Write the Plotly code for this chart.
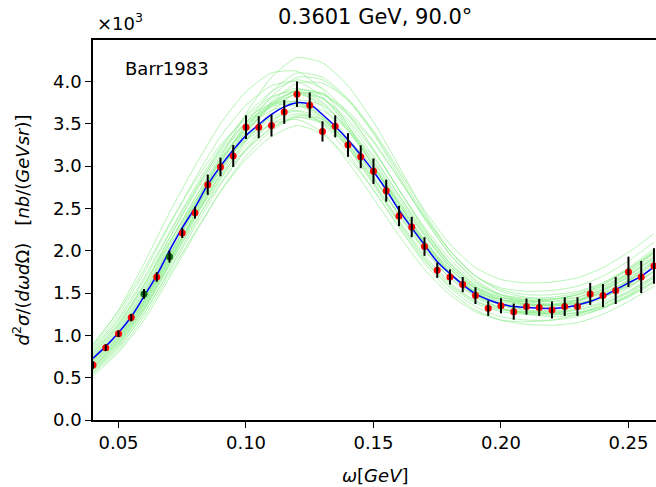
import plotly.graph_objects as go

# measured points (x in GeV, y in units of 10^3 nb/(GeV sr))
omega = [0.040, 0.045, 0.050, 0.055, 0.060, 0.065, 0.070, 0.075, 0.080, 0.085,
         0.090, 0.095, 0.100, 0.105, 0.110, 0.115, 0.120, 0.125, 0.130, 0.135,
         0.140, 0.145, 0.150, 0.155, 0.160, 0.165, 0.170, 0.175, 0.180, 0.185,
         0.190, 0.195, 0.200, 0.205, 0.210, 0.215, 0.220, 0.225, 0.230, 0.235,
         0.240, 0.245, 0.250, 0.255, 0.260]
xsec = [0.65, 0.855, 1.02, 1.21, 1.49, 1.69, 1.93, 2.21, 2.45, 2.78,
        2.99, 3.12, 3.46, 3.46, 3.48, 3.64, 3.85, 3.72, 3.41, 3.47,
        3.25, 3.11, 2.94, 2.71, 2.41, 2.28, 2.05, 1.77, 1.69, 1.60,
        1.47, 1.32, 1.35, 1.28, 1.34, 1.33, 1.30, 1.34, 1.34, 1.49,
        1.47, 1.53, 1.75, 1.69, 1.82]
xsec_err = [0.045, 0.04, 0.04, 0.045, 0.057, 0.057, 0.07, 0.06, 0.07, 0.12,
            0.11, 0.13, 0.14, 0.13, 0.13, 0.14, 0.15, 0.15, 0.12, 0.13,
            0.14, 0.135, 0.15, 0.13, 0.12, 0.12, 0.11, 0.09, 0.09, 0.09,
            0.10, 0.09, 0.09, 0.095, 0.095, 0.10, 0.10, 0.11, 0.11, 0.13,
            0.136, 0.16, 0.18, 0.19, 0.21]
green_points = [0.060, 0.070]

# best fit curve
fit = [0.73, 0.87, 1.03, 1.22, 1.46, 1.71, 2.00, 2.27, 2.51, 2.78,
       3.00, 3.19, 3.36, 3.49, 3.61, 3.70, 3.75, 3.73, 3.61, 3.47,
       3.31, 3.13, 2.94, 2.72, 2.48, 2.27, 2.07, 1.87, 1.73, 1.60,
       1.49, 1.42, 1.37, 1.34, 1.33, 1.32, 1.32, 1.33, 1.36, 1.40,
       1.46, 1.54, 1.62, 1.70, 1.81]

# replica curves
omega_rep = [0.04, 0.05, 0.06, 0.07, 0.08, 0.09, 0.10, 0.11, 0.12, 0.13, 0.14, 0.15,
             0.16, 0.17, 0.18, 0.19, 0.20, 0.21, 0.22, 0.23, 0.24, 0.25, 0.26]
replicas = [
    [0.62, 0.95, 1.38, 1.92, 2.52, 3.10, 3.62, 4.05, 4.28, 4.22, 3.95, 3.52, 3.00, 2.45, 2.00, 1.70, 1.56, 1.52, 1.53, 1.58, 1.70, 1.88, 2.10],
    [0.88, 1.30, 1.85, 2.45, 3.00, 3.50, 3.88, 4.10, 4.12, 3.90, 3.48, 3.00, 2.50, 2.05, 1.72, 1.52, 1.42, 1.40, 1.42, 1.48, 1.60, 1.78, 1.98],
    [0.55, 0.82, 1.22, 1.72, 2.22, 2.70, 3.08, 3.35, 3.48, 3.38, 3.10, 2.72, 2.28, 1.85, 1.52, 1.30, 1.18, 1.13, 1.12, 1.15, 1.25, 1.40, 1.58],
    [0.80, 1.15, 1.60, 2.10, 2.58, 3.00, 3.30, 3.50, 3.55, 3.40, 3.05, 2.62, 2.18, 1.78, 1.48, 1.28, 1.18, 1.16, 1.18, 1.25, 1.36, 1.52, 1.70],
    [0.60, 0.90, 1.30, 1.82, 2.38, 2.92, 3.38, 3.75, 3.98, 3.98, 3.78, 3.40, 2.92, 2.42, 2.00, 1.70, 1.52, 1.45, 1.43, 1.45, 1.54, 1.68, 1.88],
    [0.75, 1.08, 1.52, 2.08, 2.62, 3.12, 3.52, 3.80, 3.92, 3.80, 3.48, 3.05, 2.58, 2.13, 1.78, 1.55, 1.42, 1.37, 1.36, 1.40, 1.50, 1.65, 1.85],
    [0.68, 0.98, 1.40, 1.92, 2.42, 2.88, 3.25, 3.50, 3.62, 3.52, 3.22, 2.85, 2.42, 2.02, 1.68, 1.45, 1.32, 1.27, 1.26, 1.30, 1.40, 1.56, 1.75],
    [0.84, 1.20, 1.68, 2.22, 2.75, 3.22, 3.58, 3.82, 3.88, 3.70, 3.32, 2.88, 2.42, 2.00, 1.68, 1.47, 1.36, 1.33, 1.34, 1.40, 1.52, 1.70, 1.92],
    [0.58, 0.88, 1.30, 1.85, 2.40, 2.90, 3.30, 3.60, 3.78, 3.72, 3.45, 3.10, 2.66, 2.22, 1.85, 1.58, 1.43, 1.37, 1.35, 1.37, 1.45, 1.58, 1.75],
    [0.70, 1.02, 1.45, 2.00, 2.55, 3.05, 3.45, 3.72, 3.85, 3.74, 3.42, 3.02, 2.55, 2.10, 1.74, 1.50, 1.38, 1.35, 1.36, 1.42, 1.55, 1.74, 1.97],
    [0.66, 0.96, 1.38, 1.90, 2.40, 2.85, 3.20, 3.45, 3.58, 3.50, 3.25, 2.92, 2.50, 2.10, 1.75, 1.50, 1.36, 1.30, 1.28, 1.30, 1.38, 1.52, 1.70],
    [0.78, 1.12, 1.58, 2.15, 2.70, 3.20, 3.60, 3.88, 4.02, 3.92, 3.62, 3.20, 2.72, 2.25, 1.85, 1.58, 1.45, 1.40, 1.40, 1.45, 1.57, 1.75, 1.98],
    [0.64, 0.94, 1.36, 1.88, 2.42, 2.95, 3.40, 3.72, 3.90, 3.85, 3.60, 3.20, 2.72, 2.25, 1.86, 1.60, 1.48, 1.44, 1.45, 1.50, 1.62, 1.80, 2.02],
    [0.72, 1.05, 1.48, 2.02, 2.52, 2.98, 3.32, 3.55, 3.65, 3.50, 3.15, 2.72, 2.28, 1.88, 1.58, 1.38, 1.28, 1.25, 1.26, 1.32, 1.44, 1.60, 1.80],
    [0.82, 1.18, 1.65, 2.20, 2.72, 3.18, 3.52, 3.72, 3.76, 3.60, 3.25, 2.82, 2.36, 1.95, 1.62, 1.41, 1.31, 1.28, 1.30, 1.36, 1.48, 1.66, 1.88],
    [0.56, 0.85, 1.26, 1.78, 2.32, 2.85, 3.30, 3.65, 3.86, 3.85, 3.65, 3.30, 2.85, 2.38, 1.96, 1.66, 1.48, 1.40, 1.37, 1.38, 1.45, 1.58, 1.76],
    [0.74, 1.06, 1.50, 2.05, 2.58, 3.08, 3.48, 3.76, 3.88, 3.76, 3.42, 3.00, 2.55, 2.12, 1.78, 1.56, 1.45, 1.42, 1.43, 1.48, 1.60, 1.78, 2.00],
    [0.62, 0.92, 1.33, 1.84, 2.34, 2.80, 3.18, 3.45, 3.60, 3.55, 3.32, 2.98, 2.55, 2.12, 1.75, 1.48, 1.32, 1.25, 1.22, 1.24, 1.32, 1.46, 1.64],
    [0.86, 1.24, 1.74, 2.30, 2.85, 3.35, 3.72, 3.95, 4.00, 3.82, 3.45, 3.00, 2.52, 2.08, 1.74, 1.52, 1.40, 1.36, 1.36, 1.41, 1.52, 1.70, 1.92],
    [0.70, 1.00, 1.42, 1.95, 2.48, 2.98, 3.40, 3.70, 3.85, 3.80, 3.55, 3.18, 2.72, 2.28, 1.90, 1.62, 1.48, 1.42, 1.40, 1.42, 1.50, 1.64, 1.82],
    [0.60, 0.90, 1.32, 1.86, 2.45, 3.02, 3.50, 3.88, 4.10, 4.05, 3.80, 3.42, 2.95, 2.48, 2.08, 1.80, 1.66, 1.62, 1.63, 1.68, 1.80, 1.98, 2.20],
    [0.52, 0.80, 1.18, 1.68, 2.20, 2.70, 3.12, 3.42, 3.58, 3.52, 3.30, 2.98, 2.58, 2.18, 1.82, 1.55, 1.38, 1.30, 1.26, 1.27, 1.34, 1.47, 1.64],
    [0.90, 1.28, 1.78, 2.32, 2.82, 3.25, 3.56, 3.74, 3.76, 3.58, 3.22, 2.78, 2.32, 1.90, 1.56, 1.34, 1.22, 1.18, 1.18, 1.22, 1.32, 1.48, 1.68],
    [0.68, 0.99, 1.42, 1.96, 2.50, 3.00, 3.42, 3.72, 3.90, 3.86, 3.62, 3.28, 2.85, 2.40, 2.00, 1.70, 1.54, 1.48, 1.48, 1.52, 1.62, 1.78, 1.98],
    [0.76, 1.10, 1.55, 2.10, 2.62, 3.08, 3.44, 3.66, 3.72, 3.56, 3.22, 2.80, 2.34, 1.92, 1.60, 1.40, 1.30, 1.27, 1.28, 1.34, 1.46, 1.64, 1.86],
    [0.63, 0.93, 1.35, 1.88, 2.44, 2.98, 3.45, 3.82, 4.05, 4.02, 3.78, 3.38, 2.88, 2.38, 1.95, 1.64, 1.46, 1.38, 1.36, 1.38, 1.46, 1.60, 1.80],
    [0.79, 1.13, 1.60, 2.15, 2.68, 3.15, 3.50, 3.70, 3.74, 3.58, 3.26, 2.86, 2.44, 2.04, 1.72, 1.52, 1.42, 1.40, 1.42, 1.48, 1.58, 1.72, 1.90],
    [0.58, 0.86, 1.26, 1.76, 2.28, 2.78, 3.20, 3.52, 3.70, 3.66, 3.42, 3.06, 2.62, 2.18, 1.80, 1.52, 1.36, 1.28, 1.25, 1.26, 1.33, 1.45, 1.62],
    [0.71, 1.03, 1.47, 2.02, 2.56, 3.06, 3.46, 3.74, 3.88, 3.80, 3.52, 3.12, 2.65, 2.20, 1.82, 1.56, 1.42, 1.37, 1.37, 1.42, 1.54, 1.72, 1.94],
    [0.66, 0.97, 1.40, 1.94, 2.48, 2.96, 3.34, 3.58, 3.66, 3.55, 3.28, 2.92, 2.50, 2.08, 1.72, 1.46, 1.32, 1.26, 1.24, 1.27, 1.36, 1.50, 1.68],
]

xticks = [0.05, 0.10, 0.15, 0.20, 0.25]
yticks = [0.0, 0.5, 1.0, 1.5, 2.0, 2.5, 3.0, 3.5, 4.0]

FONT = "DejaVu Sans"

fig = go.Figure()

for rep in replicas:
    fig.add_trace(go.Scatter(
        x=omega_rep, y=rep, mode="lines",
        line=dict(color="rgba(144,238,144,0.65)", width=1, shape="spline", smoothing=0.6),
        hoverinfo="skip", showlegend=False,
    ))

fig.add_trace(go.Scatter(
    x=omega, y=fit, mode="lines",
    line=dict(color="blue", width=1.5, shape="spline"),
    showlegend=False,
))

marker_colors = ["#0b6b0b" if w in green_points else "red" for w in omega]
fig.add_trace(go.Scatter(
    x=omega, y=xsec, mode="markers",
    marker=dict(color=marker_colors, size=7),
    showlegend=False,
))
# error bars drawn on top of the dots
fig.add_trace(go.Scatter(
    x=omega, y=xsec, mode="markers",
    marker=dict(color="rgba(0,0,0,0)", size=1),
    error_y=dict(type="data", array=xsec_err, color="black", thickness=2, width=0),
    showlegend=False,
))

fig.update_layout(
    width=656,
    height=487,
    margin=dict(l=93, r=0, t=40, b=67),
    paper_bgcolor="white",
    plot_bgcolor="white",
    font=dict(family=FONT, size=18, color="black"),
    xaxis=dict(
        range=[0.04, 0.2608],
        tickvals=xticks,
        ticktext=["%.2f" % t for t in xticks],
        ticks="outside", ticklen=6, tickwidth=1.4, tickcolor="black",
        showline=True, linecolor="black", linewidth=1.5, mirror=True,
        showgrid=False, zeroline=False,
    ),
    yaxis=dict(
        range=[0, 4.49],
        tickvals=yticks,
        ticktext=["%.1f" % t for t in yticks],
        ticks="outside", ticklen=6, tickwidth=1.4, tickcolor="black",
        showline=True, linecolor="black", linewidth=1.5,
        showgrid=False, zeroline=False,
    ),
    annotations=[
        dict(text="0.3601 GeV, 90.0°", xref="paper", yref="paper", x=0.5, y=1.0605,
             xanchor="center", yanchor="middle", showarrow=False, font=dict(size=21)),
        dict(text="×10<sup>3</sup>", xref="paper", yref="paper", x=0.003, y=1.047,
             xanchor="left", yanchor="middle", showarrow=False, font=dict(size=18)),
        dict(text="Barr1983", xref="paper", yref="paper", x=0.053, y=0.926,
             xanchor="left", yanchor="middle", showarrow=False, font=dict(size=18)),
        dict(text="<i>ω</i>[<i>GeV</i>]", xref="paper", yref="paper", x=0.501, y=-0.145,
             xanchor="center", yanchor="middle", showarrow=False, font=dict(size=18)),
        dict(text="<i>d</i><sup>2</sup><i>σ</i>/(<i>dωd</i>Ω)&nbsp;&nbsp;&nbsp;[<i>nb</i>/(<i>GeVsr</i>)]",
             xref="paper", yref="paper", x=-0.127, y=0.5, textangle=-90,
             xanchor="center", yanchor="middle", showarrow=False, font=dict(size=18)),
    ],
)

# the page has a default 8px body margin; drop it so the figure sits at the corner
fig.write_html("out.html", config={"displayModeBar": False},
               post_script="document.body.style.margin='0';")
